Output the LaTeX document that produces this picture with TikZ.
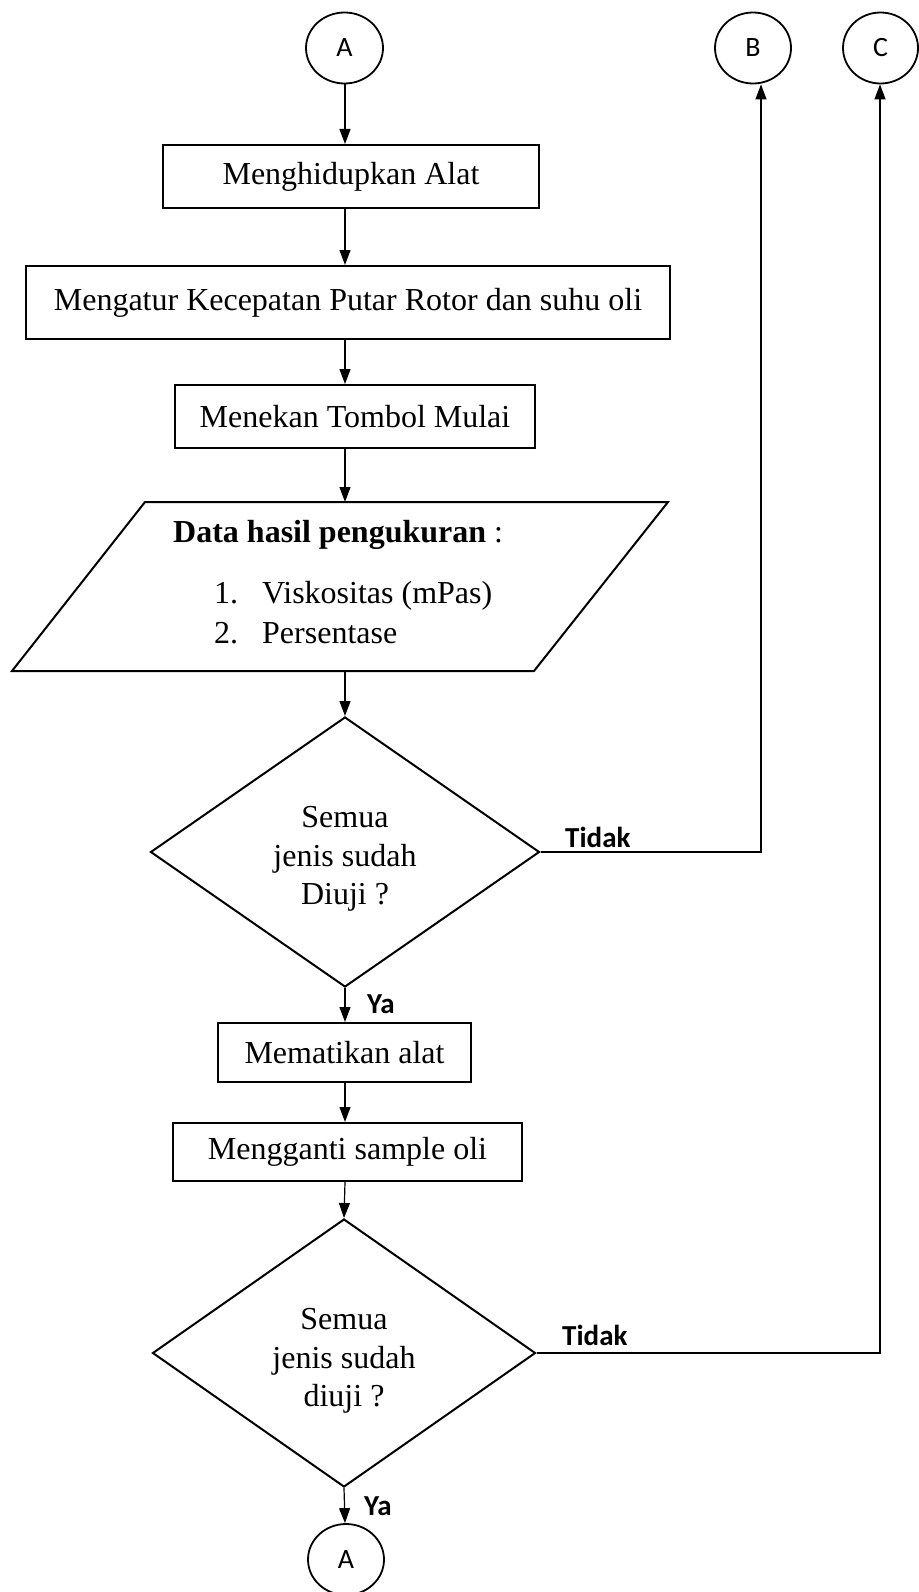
\documentclass[tikz,border=0pt]{standalone}
\usepackage{fontspec}
\setmainfont{Liberation Serif}
\newfontfamily\calibfont{Carlito}
\usetikzlibrary{arrows.meta,shapes.geometric}
\begin{document}
\begin{tikzpicture}[x=1pt,y=-1pt,
  proc/.style={draw,line width=2pt,rectangle,inner sep=0pt,font=\fontsize{32}{39}\selectfont},
  conn/.style={draw,line width=1.8pt,ellipse,inner sep=0pt,minimum width=76pt,minimum height=71pt,font=\calibfont\fontsize{28}{30}\selectfont},
  dec/.style={draw,line width=2pt,diamond,inner sep=0pt},
  dtext/.style={align=center,inner sep=0pt,font=\fontsize{32}{38.5}\selectfont},
  iotext/.style={anchor=base west,inner sep=0pt,font=\fontsize{32}{39}\selectfont},
  lbl/.style={anchor=base west,font=\calibfont\bfseries\fontsize{29}{31}\selectfont,inner sep=0pt},
  flow/.style={line width=1.2pt,-{Triangle[length=15pt,width=11pt]}}]
\useasboundingbox (0,0) rectangle (918,1592);
% connectors (circles)
\node[conn,minimum width=77pt] (A1) at (344.5,48) {A};
\node[conn] (B) at (753,48) {B};
\node[conn,minimum width=75pt] (C) at (880.5,48) {C};
\node[conn] (A2) at (346,1559.5) {A};
% process boxes
\node[proc,minimum width=376pt,minimum height=63pt] (p1) at (351,176.5) {Menghidupkan Alat};
\node[proc,minimum width=644pt,minimum height=73pt] (p2) at (348,302.5) {Mengatur Kecepatan Putar Rotor dan suhu oli};
\node[proc,minimum width=360pt,minimum height=63pt] (p3) at (355,416.5) {Menekan Tombol Mulai};
\node[proc,minimum width=253pt,minimum height=59pt] (p4) at (344.5,1052.5) {Mematikan alat};
\node[proc,minimum width=349pt,minimum height=58pt] (p5) at (347.5,1152) {Mengganti sample oli};
% input/output parallelogram
\coordinate (io1) at (145,502);
\coordinate (io2) at (668,502);
\coordinate (io3) at (534,671);
\coordinate (io4) at (12,671);
\draw[line width=2pt] (io1) -- (io2) -- (io3) -- (io4) -- cycle;
\node[iotext] (iot) at (173,542) {\textbf{Data hasil pengukuran} :};
\node[iotext] (n1) at (214,603) {1.};
\node[iotext] (v1) at (262,603) {Viskositas (mPas)};
\node[iotext] (n2) at (214,643) {2.};
\node[iotext] (v2) at (262,643) {Persentase};
% decisions
\node[dec,minimum width=389pt,minimum height=270pt] (d1) at (345,852) {};
\node[dtext,yshift=-7pt] (d1t) at (d1.center) {Semua\\jenis sudah\\Diuji ?};
\node[dec,minimum width=383pt,minimum height=268pt] (d2) at (344,1353) {};
\node[dtext,yshift=-8pt] (d2t) at (d2.center) {Semua\\jenis sudah\\diuji ?};
% labels
\node[lbl] (t1) at (565,847) {Tidak};
\node[lbl] (t2) at (562,1345) {Tidak};
\node[lbl] (y1) at (367,1013) {Ya};
\node[lbl] (y2) at (364,1515) {Ya};
% flow lines
\coordinate (col) at (345,0);
\coordinate (bx) at (761,0);
\coordinate (cx) at (880,0);
\draw[flow] (col |- A1.south) -- (col |- p1.north);
\draw[flow] (col |- p1.south) -- (col |- p2.north);
\draw[flow] (col |- p2.south) -- (col |- p3.north);
\draw[flow] (col |- p3.south) -- (col |- io1);
\draw[flow] (col |- io3) -- (d1.north);
\draw[flow] (d1.south) -- (col |- p4.north);
\draw[flow] (col |- p4.south) -- (col |- p5.north);
\draw[flow] (col |- p5.south) -- (d2.north);
\draw[flow] (d2.south) -- (col |- A2.north);
\draw[flow] (d1.east) -- (d1.east -| bx) -- (bx |- B.south);
\draw[flow] (d2.east) -- (d2.east -| cx) -- (cx |- C.south);
\end{tikzpicture}
\end{document}
